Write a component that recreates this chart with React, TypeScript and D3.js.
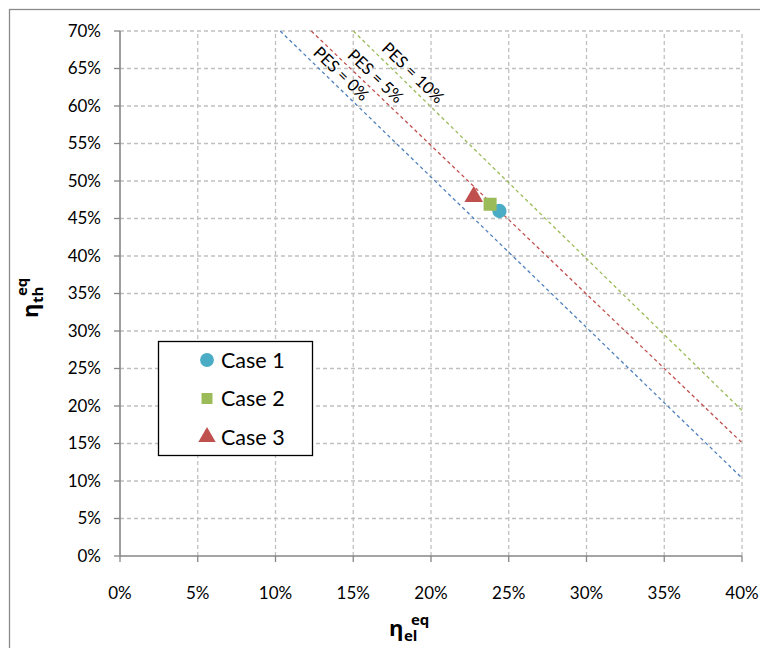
import React from 'react';
import * as d3 from 'd3';

// axis ticks (percent)
const xTicks = [0, 5, 10, 15, 20, 25, 30, 35, 40];
const yTicks = [0, 5, 10, 15, 20, 25, 30, 35, 40, 45, 50, 55, 60, 65, 70];

// PES iso-lines, endpoints [x%, y%]
const pesNames = ['PES = 0%', 'PES = 5%', 'PES = 10%'];
const pesColors = ['#4F81BD', '#C0504D', '#9BBB59'];
const pesLines = [
	[[10.3, 70], [40, 10.4]],
	[[12.3, 70], [40, 15.1]],
	[[15.0, 70], [40, 19.4]],
];
const pesLabelX = [12.1, 14.3, 16.5];

// cases
const caseNames = ['Case 1', 'Case 2', 'Case 3'];
const caseColors = ['#4BACC6', '#9BBB59', '#C0504D'];
const caseShapes = [d3.symbolCircle, d3.symbolSquare, d3.symbolTriangle];
const caseEl = [24.4, 23.8, 22.75];
const caseTh = [46.0, 46.9, 47.9];

const W = 760;
const H = 648;
const font = 'Lato, "Open Sans", sans-serif';

const App = () => {
	const x = d3.scaleLinear().domain([0, 40]).range([120, 742]);
	const y = d3.scaleLinear().domain([0, 70]).range([556, 31]);
	const line = d3.line<number[]>().x((d) => x(d[0])).y((d) => y(d[1]));
	const sym = (shape, size) => d3.symbol().type(shape).size(size)();

	return (
		<svg width={ W } height={ H } style={{ position: 'absolute', left: 0, top: 0 }}>
			<rect x={ 0 } y={ 0 } width={ W } height={ H } fill="#fff"/>
			<rect x={ 9.5 } y={ 9.5 } width={ W + 10 } height={ H + 10 } fill="none" stroke="#8a8a8a" strokeWidth={ 1.3 }/>

			{/* grid */}
			{ xTicks.filter((t) => t > 0).map((t) => (
				<line key={ 'gx' + t } x1={ x(t) } x2={ x(t) } y1={ y(0) } y2={ y(70) }
					stroke="#c0c0c0" strokeWidth={ 1.3 } strokeDasharray="4,3"/>
			)) }
			{ yTicks.filter((t) => t > 0).map((t) => (
				<line key={ 'gy' + t } x1={ x(0) } x2={ x(40) } y1={ y(t) } y2={ y(t) }
					stroke="#c0c0c0" strokeWidth={ 1.3 } strokeDasharray="4,3"/>
			)) }

			{/* axes */}
			<line x1={ x(0) } x2={ x(0) } y1={ y(0) } y2={ y(70) } stroke="#868686" strokeWidth={ 1.6 }/>
			<line x1={ x(0) } x2={ x(40) } y1={ y(0) } y2={ y(0) } stroke="#868686" strokeWidth={ 1.6 }/>
			{ yTicks.map((t) => (
				<g key={ 'ty' + t }>
					<line x1={ x(0) - 6 } x2={ x(0) } y1={ y(t) } y2={ y(t) } stroke="#868686" strokeWidth={ 1.3 }/>
					<text x={ 101 } y={ y(t) } dy="0.35em" textAnchor="end" fontFamily={ font } fontSize={ 17 } fill="#000">{ t }%</text>
				</g>
			)) }
			{ xTicks.map((t) => (
				<g key={ 'tx' + t }>
					<line x1={ x(t) } x2={ x(t) } y1={ y(0) } y2={ y(0) + 6 } stroke="#868686" strokeWidth={ 1.3 }/>
					<text x={ x(t) } y={ 599 } textAnchor="middle" fontFamily={ font } fontSize={ 17 } fill="#000">{ t }%</text>
				</g>
			)) }

			{/* PES lines */}
			{ pesLines.map((pts, i) => {
				const [a, b] = pts;
				const ang = Math.atan2(y(b[1]) - y(a[1]), x(b[0]) - x(a[0])) * 180 / Math.PI;
				const t = (pesLabelX[i] - a[0]) / (b[0] - a[0]);
				const ly = a[1] + t * (b[1] - a[1]);
				return (
					<g key={ 'pes' + i }>
						<path d={ line(pts) } fill="none" stroke={ pesColors[i] } strokeWidth={ 1.3 } strokeDasharray="3.5,3"/>
						<text transform={ `translate(${ x(pesLabelX[i]) },${ y(ly) }) rotate(${ ang })` } dy={ -6 }
							fontFamily={ font } fontSize={ 16.5 } fill="#000">{ pesNames[i] }</text>
					</g>
				);
			}) }

			{/* cases */}
			{ caseNames.map((n, i) => (
				<path key={ 'c' + i } d={ sym(caseShapes[i], i === 1 ? 170 : i === 2 ? 150 : 160) }
					transform={ `translate(${ x(caseEl[i]) },${ y(caseTh[i]) })` } fill={ caseColors[i] }/>
			)) }

			{/* legend */}
			<rect x={ 158.5 } y={ 341.5 } width={ 154 } height={ 114 } fill="#fff" stroke="#000" strokeWidth={ 1.3 }/>
			{ caseNames.map((n, i) => (
				<g key={ 'l' + i } transform={ `translate(207,${ 360 + i * 38.5 })` }>
					<path d={ sym(caseShapes[i], i === 1 ? 120 : i === 2 ? 130 : 150) } fill={ caseColors[i] }/>
					<text x={ 14 } dy="0.35em" fontFamily={ font } fontSize={ 21.5 } fill="#000">{ n }</text>
				</g>
			)) }

			{/* axis titles */}
			<text x={ 389 } y={ 636 } fontFamily="'Open Sans', sans-serif" fontWeight="bold" fontSize={ 22 } fill="#000">
				η<tspan x={ 404 } dy={ 5 } fontSize={ 15 }>el</tspan><tspan x={ 411 } dy={ -16 } fontSize={ 15 }>eq</tspan>
			</text>
			<text transform="translate(38,318) rotate(-90)" fontFamily="'Open Sans', sans-serif" fontWeight="bold" fontSize={ 22 } fill="#000">
				η<tspan x={ 15 } dy={ 5 } fontSize={ 15 }>th</tspan><tspan x={ 22 } dy={ -16 } fontSize={ 15 }>eq</tspan>
			</text>
		</svg>
	);
};

export default App;
